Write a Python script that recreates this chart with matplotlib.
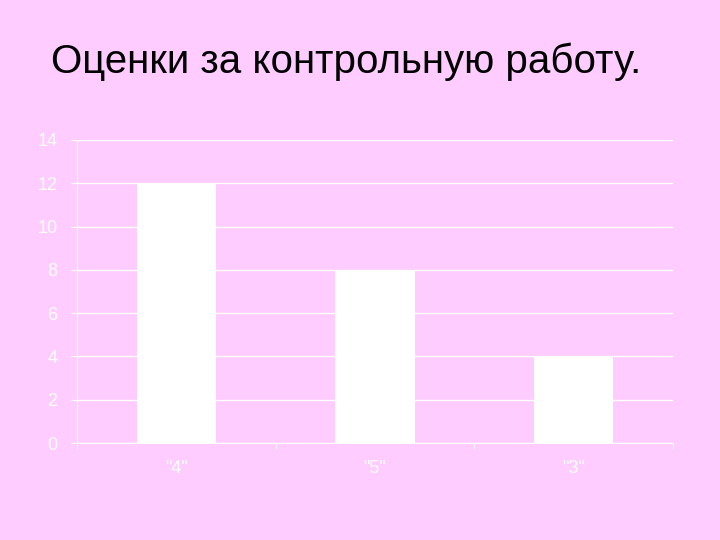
import matplotlib
matplotlib.use("Agg")
import matplotlib.pyplot as plt

categories = ['"4"', '"5"', '"3"']
values = [12, 8, 4]
yticks = [0, 2, 4, 6, 8, 10, 12, 14]

bg = "#FFCCFF"
plt.rcParams['font.family'] = ['Liberation Sans', 'DejaVu Sans']

fig = plt.figure(figsize=(7.2, 5.4), dpi=100, facecolor=bg)
ax = fig.add_axes([77/720, 1 - 443/540, (673-77)/720, (443-140)/540])
ax.set_facecolor(bg)

x = list(range(len(categories)))
ax.bar(x, values, width=0.4, color="white", zorder=3)
ax.set_xlim(-0.5, len(categories) - 0.5)
ax.set_ylim(0, 14)
ax.set_yticks(yticks)
ax.set_yticklabels([str(v) for v in yticks])
ax.yaxis.grid(True, color="white", linewidth=1, zorder=0)

ax.set_xticks(x)
ax.set_xticklabels(categories)
ax.set_xticks([i - 0.5 for i in range(len(categories) + 1)], minor=True)
ax.tick_params(axis="x", which="major", length=0, pad=12, colors="white", labelsize=13)
ax.tick_params(axis="x", which="minor", length=4, color="white", direction="out")
ax.tick_params(axis="y", length=4, color="white", colors="white", labelsize=13, pad=10)

for s in ["top", "right"]:
    ax.spines[s].set_visible(False)
ax.spines["left"].set_color("white")
ax.spines["bottom"].set_color("white")

fig.text(51/720, 1 - 73/540, "Оценки за контрольную работу.", fontsize=29,
         color="black", ha="left", va="baseline")

fig.savefig("out.png", dpi=100, facecolor=bg)
